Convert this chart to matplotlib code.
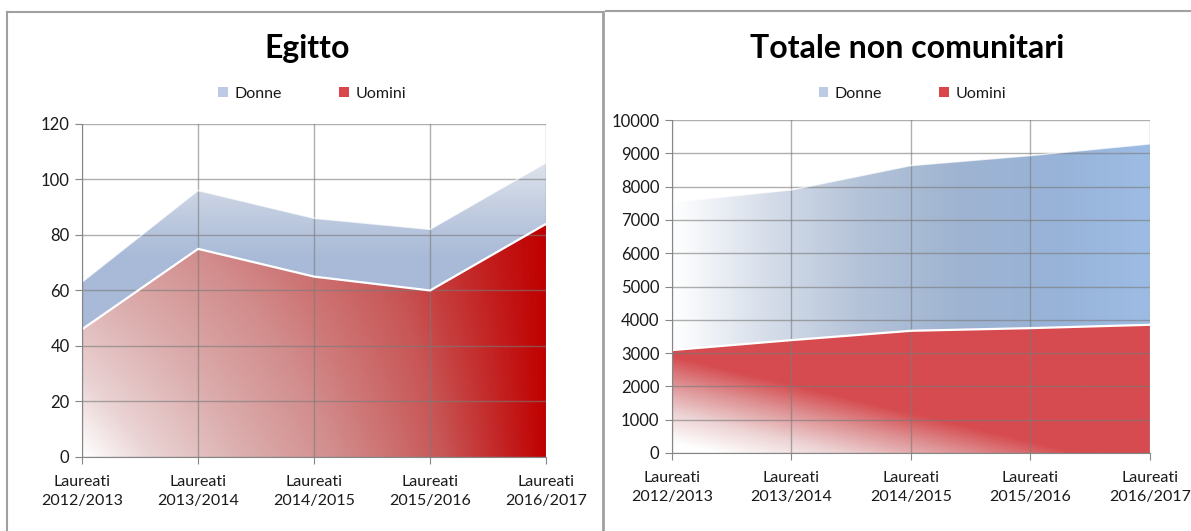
import matplotlib
matplotlib.use('Agg')
import matplotlib.pyplot as plt
from matplotlib.colors import LinearSegmentedColormap
from matplotlib.lines import Line2D
from matplotlib.patches import Patch
import numpy as np

plt.rcParams['font.family'] = ['Lato', 'DejaVu Sans']

categories = ['Laureati\n2012/2013', 'Laureati\n2013/2014', 'Laureati\n2014/2015',
              'Laureati\n2015/2016', 'Laureati\n2016/2017']

# Egitto
egitto_uomini = [46, 75, 65, 60, 84]
egitto_donne = [17, 21, 21, 22, 22]

# Totale non comunitari
tot_uomini = [3090, 3390, 3670, 3750, 3850]
tot_donne = [4440, 4510, 4960, 5180, 5430]


def make_cmap(stops):
    return LinearSegmentedColormap.from_list('g', stops)


def gradient_area(ax, x, lo, hi, tfunc, cmap, ylim):
    poly = ax.fill_between(x, lo, hi, facecolor='none', edgecolor='none')
    gx = np.linspace(0, len(x) - 1, 300)
    gy = np.linspace(ylim[0], ylim[1], 300)
    X, Y = np.meshgrid(gx, gy)
    t = np.clip(tfunc(X, Y), 0, 1)
    im = ax.imshow(cmap(t), extent=[0, len(x) - 1, ylim[0], ylim[1]], origin='lower',
                   aspect='auto', interpolation='bilinear', zorder=1)
    im.set_clip_path(poly.get_paths()[0], transform=ax.transData)


def style_axes(ax, ymax, ystep):
    ax.set_xlim(0, len(categories) - 1)
    ax.set_ylim(0, ymax)
    ax.set_xticks(range(len(categories)))
    ax.set_xticklabels(categories, fontsize=11.5, color='#1a1a1a', linespacing=1.45)
    ax.set_yticks(np.arange(0, ymax + 1, ystep))
    ax.tick_params(axis='y', labelsize=12, colors='#1a1a1a', length=5, color='#868686', pad=4)
    ax.tick_params(axis='x', length=5, color='#868686', pad=8)
    ax.set_axisbelow(False)
    ax.grid(True, color='#7a7a7a', lw=1, alpha=0.6)
    for s in ['top', 'right']:
        ax.spines[s].set_visible(False)
    for s in ['left', 'bottom']:
        ax.spines[s].set_color('#868686')
        ax.spines[s].set_zorder(4)


fig = plt.figure(figsize=(11.91, 5.31), dpi=100)

x = np.arange(len(categories))

# ---- left panel
ax1 = fig.add_axes([0.0689, 0.1394, 0.3896, 0.6271])
eu = np.array(egitto_uomini)
et = eu + np.array(egitto_donne)
ylim1 = (0, 120)
cm_red1 = make_cmap([(0, '#ffffff'), (0.15, '#ead3d4'), (0.35, '#dcaeae'),
                     (0.55, '#d28c8c'), (0.78, '#c85656'), (1, '#c00000')])
gradient_area(ax1, x, 0, eu, lambda X, Y: X / 4 + 0.45 * (Y / 84) * (1 - X / 4), cm_red1, ylim1)
cm_blue1 = make_cmap([(0, '#a8bad8'), (0.5, '#c3cee0'), (1, '#e1e6ee')])
gradient_area(ax1, x, eu, et, lambda X, Y: (Y - 72) / 36, cm_blue1, ylim1)
ax1.plot(x, eu, color='white', lw=1.6, zorder=3)
ax1.plot(x, et, color='white', lw=1.0, alpha=0.7, zorder=3)
style_axes(ax1, 120, 20)

# ---- right panel
ax2 = fig.add_axes([0.5642, 0.1469, 0.4013, 0.6271])
tu = np.array(tot_uomini)
tt = tu + np.array(tot_donne)
ylim2 = (0, 10000)
cm_red2 = make_cmap([(0, '#ffffff'), (0.35, '#edd2d3'), (0.7, '#dd8e90'), (1, '#d64b4f')])
gradient_area(ax2, x, 0, tu, lambda X, Y: (X / 3.4 + Y / 2900 - 0.1) / 0.9, cm_red2, ylim2)
cm_blue2 = make_cmap([(0, '#ffffff'), (0.2, '#d5dde9'), (0.4, '#b3c2d8'),
                      (0.6, '#9fb4d1'), (0.8, '#98b3d8'), (1, '#9dbce4')])
gradient_area(ax2, x, tu, tt, lambda X, Y: X / 4, cm_blue2, ylim2)
ax2.plot(x, tu, color='white', lw=1.6, zorder=3)
ax2.plot(x, tt, color='white', lw=1.0, alpha=0.7, zorder=3)
style_axes(ax2, 10000, 1000)

# titles and legends
fig.text(0.258, 1 - 48 / 531, 'Egitto', ha='center', va='center', fontsize=23, fontweight='bold')
fig.text(0.762, 1 - 48 / 531, 'Totale non comunitari', ha='center', va='center',
         fontsize=23, fontweight='bold')

handles = [Patch(facecolor='#bccbe3', edgecolor='none'), Patch(facecolor='#d9474b', edgecolor='none')]
for cx in (0.262, 0.766):
    fig.legend(handles, ['Donne', 'Uomini'], loc='center', bbox_to_anchor=(cx, 1 - 94 / 531),
               ncol=2, frameon=False, handlelength=0.6, handleheight=0.6, columnspacing=3.6,
               handletextpad=0.4, fontsize=11.5, labelcolor='#1a1a1a')

# panel frames
W, H = 1191, 531
def fline(x0, y0, x1, y1, lw=1.5):
    fig.add_artist(Line2D([x0 / W, x1 / W], [1 - y0 / H, 1 - y1 / H], color='#a0a0a0', lw=lw))

fline(7, 12, 603, 12)
fline(7, 12, 7, H)
fline(603, 12, 603, H, lw=2)
fline(606, 11, W, 11)

fig.savefig('out.png', dpi=100)
